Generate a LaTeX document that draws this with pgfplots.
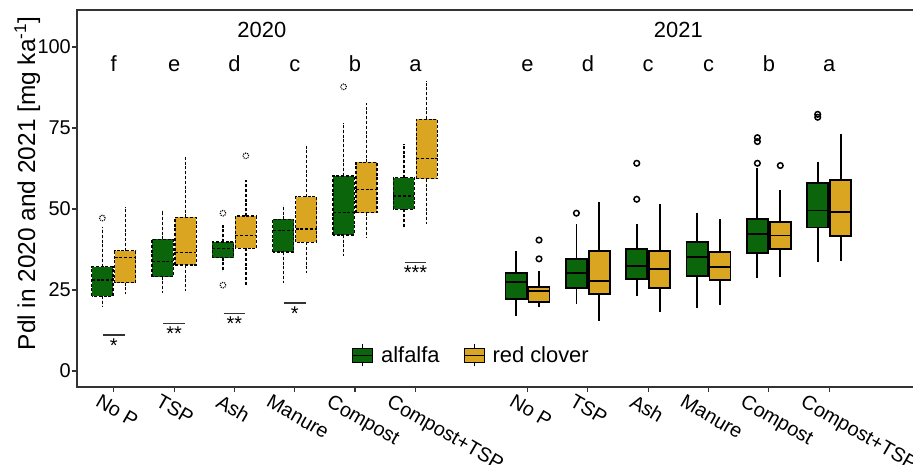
\documentclass[border=0pt]{standalone}
\usepackage{pgfplots}
\pgfplotsset{compat=1.18}
\usepgfplotslibrary{statistics}
\usepackage{fontspec}
\setmainfont{Liberation Sans}
\definecolor{alf}{HTML}{0B650B}
\definecolor{rc}{HTML}{DAA520}
\definecolor{axc}{HTML}{333333}
\newcommand{\fs}{\fontsize{22}{26}\selectfont}
\pgfplotsset{
  s20/.style={draw=black, line width=1.25bp, dash pattern=on 3bp off 1.8bp,
    boxplot/box extend=0.35, boxplot/whisker extend=0,
    mark=o, mark size=2.8bp, mark options={draw=black, fill=none, line width=1.1bp, densely dotted}},
  s21/.style={draw=black, line width=1.8bp, solid,
    boxplot/box extend=0.35, boxplot/whisker extend=0,
    mark=o, mark size=2.8bp, mark options={draw=black, fill=none, line width=1.5bp, solid}},
}
% #1 style, #2 position, #3..#7 lw lq med uq uw, #8 outliers
\newcommand{\bx}[8]{%
  \addplot[#1, forget plot, boxplot prepared={draw position=#2, lower whisker=#3,
    lower quartile=#4, median=#5, upper quartile=#6, upper whisker=#7}]
    coordinates {#8};}
\newcommand{\lt}[2]{\node[anchor=base, font=\fs] at (axis cs:#1,92.4) {#2};}
\newcommand{\sig}[3]{%
  \draw[axc, line width=1.2bp] (axis cs:#1-0.18,#2) -- (axis cs:#1+0.18,#2);
  \node[anchor=north, inner sep=0pt, font=\fontsize{20}{22}\selectfont] at (axis cs:#1,#2-1.0) {#3};}
\begin{document}
\begin{tikzpicture}
\begin{axis}[name=ax, scale only axis, width=836bp, height=377bp,
  boxplot/draw direction=y,
  xmin=0.39, xmax=14.25, ymin=-4.94, ymax=111.4,
  axis line style={draw=none},
  ytick={0,25,50,75,100},
  xtick={1,2,3,7.86,8.86,9.86},
  xticklabels={No P,TSP,Ash,No P,TSP,Ash},
  extra x ticks={4,5,6,10.86,11.86,12.86},
  extra x tick labels={Manure,Compost,Compost+TSP,Manure,Compost,Compost+TSP},
  extra x tick style={xticklabel style={xshift=-8.75bp, yshift=-5.05bp}},
  xtick pos=bottom, ytick pos=left,
  tick align=outside, major tick length=5bp,
  tick style={line width=1.2bp, color=axc},
  /pgf/number format/assume math mode=true,
  yticklabel style={font=\fontsize{20}{24}\selectfont, inner sep=1bp},
  xticklabel style={font=\fontsize{20}{23}\selectfont, xshift=-12.5bp, yshift=-1.5bp, rotate=-30, anchor=north west, inner sep=0pt},
  ylabel={Pdl in 2020 and 2021 [mg ka\textsuperscript{-1}]},
  ylabel style={font=\fontsize{24.5}{28}\selectfont, at={(axis description cs:-0.0502,0.54)}, anchor=base},
  legend columns=2,
  legend style={at={(0.4707,0.085)}, anchor=center, draw=none, fill=none, font=\fs,
    /tikz/every odd column/.append style={column sep=8bp},
    /tikz/every even column/.append style={column sep=24bp},
    nodes={inner sep=0bp}},
  clip=false,
]
\addlegendimage{legend image code/.code={
  \draw[black, line width=0.9bp] (10bp,-11bp)--(10bp,11bp);
  \draw[black, fill=alf, line width=0.9bp] (0bp,-7bp) rectangle (20bp,7bp);
  \draw[black, line width=0.9bp] (0bp,0bp)--(20bp,0bp);}}
\addlegendentry{alfalfa}
\addlegendimage{legend image code/.code={
  \draw[black, line width=0.9bp] (10bp,-11bp)--(10bp,11bp);
  \draw[black, fill=rc, line width=0.9bp] (0bp,-7bp) rectangle (20bp,7bp);
  \draw[black, line width=0.9bp] (0bp,0bp)--(20bp,0bp);}}
\addlegendentry{red clover}

% 2020
\bx{s20,fill=alf}{0.81}{19.8}{23.1}{28.1}{32.2}{44.5}{(0,47.2)}
\bx{s20,fill=rc}{1.19}{23.8}{27.3}{35.0}{37.1}{50.7}{}
\bx{s20,fill=alf}{1.81}{24.2}{29.1}{33.7}{40.6}{49.5}{}
\bx{s20,fill=rc}{2.19}{24.8}{32.7}{36.6}{47.4}{66.1}{}
\bx{s20,fill=alf}{2.81}{30.6}{35.0}{37.7}{39.8}{45.1}{(0,48.7) (0,26.5)}
\bx{s20,fill=rc}{3.19}{26.5}{37.9}{41.8}{47.8}{58.9}{(0,66.4)}
\bx{s20,fill=alf}{3.81}{27.3}{36.7}{43.3}{46.8}{51.2}{}
\bx{s20,fill=rc}{4.19}{30.1}{39.7}{43.8}{53.8}{69.4}{}
\bx{s20,fill=alf}{4.81}{35.5}{42.0}{48.9}{60.2}{76.6}{(0,87.7)}
\bx{s20,fill=rc}{5.19}{41.4}{48.9}{55.9}{64.4}{82.8}{}
\bx{s20,fill=alf}{5.81}{44.0}{49.9}{54.0}{59.7}{70.1}{}
\bx{s20,fill=rc}{6.19}{45.3}{59.3}{65.6}{77.7}{89.6}{}
% 2021
\bx{s21,fill=alf}{7.67}{17.1}{22.2}{27.4}{30.3}{37.1}{}
\bx{s21,fill=rc}{8.05}{19.7}{21.4}{24.8}{26.0}{30.9}{(0,34.6) (0,40.4)}
\bx{s21,fill=alf}{8.67}{20.6}{25.7}{30.3}{34.6}{45.3}{(0,48.7)}
\bx{s21,fill=rc}{9.05}{15.5}{23.8}{27.8}{37.0}{52.3}{}
\bx{s21,fill=alf}{9.67}{23.1}{28.4}{32.5}{37.7}{45.4}{(0,53.0) (0,64.1)}
\bx{s21,fill=rc}{10.05}{18.3}{25.5}{31.5}{37.0}{51.4}{}
\bx{s21,fill=alf}{10.67}{19.3}{29.4}{35.1}{39.7}{48.9}{}
\bx{s21,fill=rc}{11.05}{20.4}{28.1}{32.0}{36.6}{46.9}{}
\bx{s21,fill=alf}{11.67}{28.6}{36.3}{42.3}{46.9}{62.6}{(0,64.1) (0,70.8) (0,72.0)}
\bx{s21,fill=rc}{12.05}{29.1}{37.7}{41.8}{46.1}{55.9}{(0,63.4)}
\bx{s21,fill=alf}{12.67}{33.5}{44.3}{49.5}{57.9}{64.4}{(0,78.3) (0,79.2)}
\bx{s21,fill=rc}{13.05}{34.0}{41.7}{49.0}{58.9}{73.1}{}

% axis frame (left, bottom, top)
\draw[axc, line width=1.3bp] (rel axis cs:1,1) -- (rel axis cs:0,1) -- (rel axis cs:0,0) -- (rel axis cs:1,0);

% year titles and letters
\node[anchor=base, font=\fs] at (axis cs:3.455,103.0) {2020};
\node[anchor=base, font=\fs] at (axis cs:10.36,103.0) {2021};
\lt{1}{f}\lt{2}{e}\lt{3}{d}\lt{4}{c}\lt{5}{b}\lt{6}{a}
\lt{7.86}{e}\lt{8.86}{d}\lt{9.86}{c}\lt{10.86}{c}\lt{11.86}{b}\lt{12.86}{a}
% significance
\sig{1}{11.1}{*}
\sig{2}{14.7}{**}
\sig{3}{17.7}{**}
\sig{4}{21.0}{*}
\sig{6}{33.6}{***}
\end{axis}
\pgfresetboundingbox
\path ([xshift=-77bp,yshift=-78bp]ax.south west) rectangle ([yshift=10bp]ax.north east);
\end{tikzpicture}
\end{document}
